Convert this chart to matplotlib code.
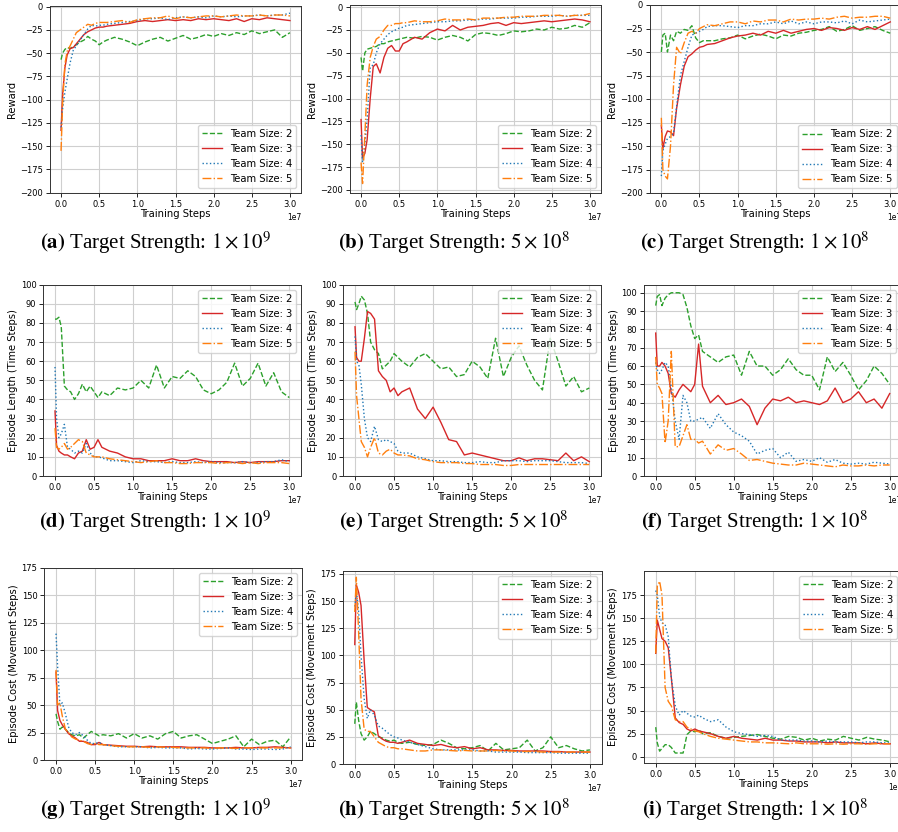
import numpy as np
import matplotlib
matplotlib.use("Agg")
from matplotlib import pyplot as plt

plt.rcParams['mathtext.fontset'] = 'stix'

# training steps in units of 1e7, shared by every curve
steps = [0, 0.02, 0.05, 0.08, 0.12, 0.16, 0.2, 0.25, 0.3, 0.35, 0.4, 0.45, 0.5, 0.55,
         0.6, 0.7, 0.8, 0.9, 1.0, 1.1, 1.2, 1.3, 1.4, 1.5, 1.6, 1.7, 1.8, 1.9,
         2.0, 2.1, 2.2, 2.3, 2.4, 2.5, 2.6, 2.7, 2.8, 2.9, 3.0]

team_labels = ["Team Size: 2", "Team Size: 3", "Team Size: 4", "Team Size: 5"]
team_colors = ["#2ca02c", "#d62728", "#1f77b4", "#ff7f0e"]
team_styles = ["--", "-", ":", "-."]

# ---- Reward ----
a2 = [-57, -50, -46, -44, -45, -43, -41, -38, -36, -32, -35, -37, -41, -38,
      -36, -33, -35, -38, -42, -38, -35, -33, -37, -34, -31, -35, -33, -30, -32, -29, -31, -28, -30, -26, -29, -27, -25, -33, -28]
a3 = [-133, -95, -66, -52, -45, -44, -40, -35, -30, -27, -25, -23, -22, -22,
      -21, -20, -19, -18, -16, -15, -16, -15, -14, -15, -14, -15, -13, -14, -13, -14, -15, -13, -16, -13, -14, -12, -13, -14, -15]
a4 = [-130, -110, -92, -78, -60, -47, -42, -36, -30, -24, -20, -21, -20, -20,
      -19, -18, -17, -16, -15, -13, -13, -12, -14, -12, -11, -12, -11, -12, -10, -11, -10, -11, -10, -10, -9, -10, -9, -9, -7]
a5 = [-155, -105, -62, -48, -42, -35, -28, -25, -22, -19, -20, -18, -17, -17,
      -17, -16, -15, -17, -14, -13, -12, -12, -10, -13, -11, -12, -11, -10, -10, -11, -10, -9, -10, -10, -9, -10, -9, -9, -10]

b2 = [-55, -70, -50, -46, -45, -44, -43, -40, -40, -38, -37, -36, -35, -34,
      -33, -34, -32, -33, -36, -33, -31, -33, -37, -30, -28, -29, -31, -29, -26, -27, -26, -24, -25, -22, -24, -23, -20, -22, -17]
b3 = [-123, -165, -160, -145, -100, -65, -62, -72, -55, -45, -42, -48, -48, -40,
      -38, -33, -35, -28, -24, -26, -20, -25, -22, -21, -20, -18, -17, -20, -17, -18, -17, -16, -15, -16, -15, -14, -13, -14, -16]
b4 = [-140, -170, -150, -122, -66, -63, -50, -40, -35, -30, -27, -25, -23, -22,
      -20, -19, -18, -17, -16, -16, -15, -15, -14, -14, -13, -13, -12, -12, -12, -11, -11, -10, -10, -10, -9, -10, -9, -9, -9]
b5 = [-170, -193, -140, -85, -55, -43, -35, -32, -25, -20, -20, -18, -18, -17,
      -17, -15, -16, -16, -15, -13, -14, -14, -13, -14, -12, -12, -12, -11, -11, -10, -10, -10, -9, -9, -9, -10, -9, -9, -7]

c2 = [-50, -32, -30, -50, -32, -38, -28, -30, -26, -27, -22, -35, -40, -38,
      -38, -38, -36, -35, -32, -36, -33, -31, -33, -36, -32, -33, -30, -29, -27, -26, -23, -28, -26, -22, -27, -25, -23, -27, -30]
c3 = [-128, -153, -140, -134, -135, -139, -110, -85, -65, -55, -52, -48, -45, -44,
      -42, -41, -38, -35, -33, -32, -30, -32, -28, -30, -27, -30, -28, -26, -25, -27, -24, -25, -27, -24, -26, -23, -26, -22, -18]
c4 = [-182, -155, -148, -142, -140, -136, -108, -75, -60, -45, -32, -30, -28, -26,
      -23, -22, -22, -23, -24, -22, -22, -20, -20, -18, -20, -17, -20, -18, -20, -18, -18, -19, -17, -20, -16, -18, -17, -16, -15]
c5 = [-120, -175, -182, -185, -150, -85, -45, -52, -40, -30, -28, -30, -25, -23,
      -21, -22, -20, -18, -18, -20, -17, -18, -16, -16, -18, -15, -16, -15, -15, -14, -15, -13, -12, -14, -13, -13, -12, -12, -14]

# ---- Episode length ----
d2 = [82, 82, 83, 78, 47, 45, 44, 40, 43, 48, 44, 47, 44, 41,
      44, 42, 46, 45, 46, 50, 46, 58, 46, 52, 51, 55, 52, 45, 43, 45, 49, 59, 47, 51, 59, 47, 54, 44, 41]
d3 = [34, 16, 13, 12, 11, 11, 10, 9, 12, 13, 19, 14, 15, 19,
      15, 13, 12, 10, 9, 9, 8, 8, 8, 9, 8, 8, 9, 8, 7.5, 7.5, 7.5, 7, 7.5, 7, 7.5, 7.5, 7.5, 8, 8]
d4 = [57, 30, 20, 22, 27, 15, 14, 12, 13, 12, 17, 12, 10, 10,
      9.5, 8, 8, 7.5, 7, 8, 7.5, 7.5, 7, 7.5, 7, 7, 7.5, 7, 7.5, 7, 7, 7, 7.5, 7, 7, 7.5, 7.5, 8.5, 7.5]
d5 = [25, 15, 14, 15, 17, 14, 15, 17, 19, 18, 12, 11, 10, 10,
      10, 9, 8.5, 8, 7.5, 7, 7.5, 8, 7, 7, 6.5, 6.5, 7, 7, 7, 6.5, 7, 7, 6.5, 7, 6.5, 7, 7, 7, 6.5]

e2 = [91, 87, 90, 94, 92, 85, 70, 66, 64, 56, 58, 60, 64, 62,
      60, 57, 62, 64, 60, 56, 57, 52, 53, 60, 57, 51, 72, 52, 62, 68, 58, 50, 45, 72, 60, 47, 52, 44, 46]
e3 = [78, 62, 60, 60, 72, 86, 85, 82, 55, 52, 50, 44, 46, 42,
      44, 46, 35, 30, 36, 28, 19, 18, 11, 12, 11, 10, 9, 8, 8, 9.5, 8, 9, 9, 8.5, 8, 12, 8, 10, 7.5]
e4 = [73, 60, 58, 48, 30, 20, 18, 26, 19, 18, 19, 18, 17, 13,
      12, 12, 10, 9, 8, 8, 7.5, 7.5, 7, 7, 7.5, 7, 7, 8, 8, 8, 7.5, 8, 8, 8, 7.5, 7, 7, 7, 6.5]
e5 = [65, 42, 30, 18, 15, 10, 15, 20, 12, 11, 13, 14, 12, 11,
      11, 10.5, 9, 8.5, 7.5, 7, 7, 7, 6.5, 6.5, 6, 6, 6, 5.5, 5.5, 6, 6, 6, 6, 6, 6, 6, 6, 6, 6]

f2 = [93, 98, 99, 93, 97, 99, 100, 100, 100, 99, 92, 82, 75, 77,
      68, 65, 62, 65, 66, 55, 68, 60, 60, 55, 58, 64, 58, 55, 55, 47, 65, 57, 62, 55, 47, 52, 60, 56, 50]
f3 = [78, 60, 60, 62, 60, 56, 45, 43, 47, 50, 48, 46, 50, 72,
      49, 40, 44, 39, 40, 42, 38, 28, 37, 42, 41, 43, 40, 41, 40, 39, 41, 48, 40, 42, 46, 40, 42, 37, 45]
f4 = [62, 58, 56, 58, 62, 60, 48, 30, 20, 44, 40, 30, 30, 31,
      32, 26, 34, 28, 24, 22, 19, 12, 14, 15, 10, 13, 8, 9, 8, 10, 7.5, 9, 7, 6.5, 7, 6.5, 7.5, 7, 6.5]
f5 = [65, 50, 48, 45, 18, 30, 68, 16, 16, 22, 28, 20, 20, 18,
      19, 12, 17, 14, 15, 12, 8.5, 9, 8, 7, 6.5, 6, 6, 7, 6.5, 6, 5.5, 5, 6, 5.5, 5.5, 6, 5.5, 6, 6]

# ---- Episode cost ----
g2 = [42, 35, 28, 30, 28, 25, 23, 22, 23, 20, 23, 26, 24, 22,
      23, 22, 24, 20, 24, 20, 22, 19, 24, 26, 20, 22, 23, 19, 15, 17, 19, 22, 12, 19, 14, 17, 18, 12, 21]
g3 = [80, 45, 36, 32, 28, 24, 22, 20, 17, 17, 16, 14, 14, 16,
      14, 13.5, 13, 12.5, 12.5, 12, 12.5, 12, 12, 12, 12, 11.5, 11.5, 11.5, 11, 11, 11, 11.5, 11, 11, 11.5, 11.5, 12, 11.5, 11]
g4 = [115, 85, 50, 52, 42, 30, 25, 23, 25, 22, 18, 15, 15, 16,
      14, 13, 12, 12, 12, 12, 11, 11.5, 11, 11, 11, 10, 10.5, 10, 10, 10.5, 11, 10, 10, 9.5, 10, 10, 9.5, 10, 12]
g5 = [82, 50, 52, 40, 28, 25, 21, 19, 18, 17, 15, 14, 15, 14,
      14, 13, 12.5, 12, 12, 12, 11.5, 12, 11.5, 11.5, 11, 11, 11, 11, 10.5, 11, 11, 10.5, 11, 11, 11, 11, 11, 11, 11]

h2 = [37, 57, 40, 28, 22, 25, 30, 28, 25, 24, 22, 21, 22, 20,
      19, 20, 18, 17, 18, 22, 19, 15, 14, 15, 17, 12, 19, 13, 14, 15, 22, 12, 15, 25, 15, 17, 14, 12, 13]
h3 = [110, 165, 158, 146, 95, 52, 50, 48, 26, 23, 21, 20, 20, 19,
      20, 22, 19, 18, 17, 18, 16, 15, 16, 14, 15, 13, 13, 12.5, 12.5, 12, 12, 12, 12, 11.5, 11.5, 11, 11, 11, 11]
h4 = [145, 160, 140, 100, 60, 42, 50, 45, 35, 33, 30, 27, 25, 24,
      22, 20, 18, 16, 14, 13, 13, 13, 13, 13, 12, 12, 11, 11, 11, 11, 10.5, 10.5, 10.5, 10.5, 10, 10, 10, 10, 10]
h5 = [140, 172, 120, 60, 32, 30, 30, 25, 20, 18, 16, 15, 15, 14,
      14, 13, 12, 12, 13, 13, 12.5, 12, 12.5, 12, 12, 12, 12.5, 12, 12, 11.5, 11.5, 11.5, 11, 11, 11, 11, 11, 11, 11]

i2 = [32, 15, 6, 9, 13, 13, 10, 4, 4, 4, 24, 28, 27, 29,
      25, 26, 22, 20, 21, 22, 23, 24, 22, 20, 19, 22, 21, 18, 20, 17, 19, 18, 22, 20, 18, 21, 19, 18, 16]
i3 = [112, 148, 138, 128, 125, 118, 85, 42, 37, 35, 30, 28, 30, 28,
      27, 25, 22, 20, 22, 20, 19, 18, 20, 18, 18, 17, 17, 16, 16, 16, 15, 16, 15, 15, 15, 14, 15, 14, 14]
i4 = [180, 175, 152, 145, 143, 130, 85, 55, 45, 50, 47, 44, 43, 45,
      42, 38, 40, 32, 27, 25, 24, 22, 23, 22, 18, 18, 18, 17, 17, 16, 17, 16, 16, 16, 15, 16, 16, 15, 15]
i5 = [112, 185, 190, 175, 75, 60, 55, 40, 38, 38, 32, 30, 28, 27,
      25, 22, 20, 19, 18, 17, 16, 16, 15, 15, 14.5, 14, 15, 14, 14, 14, 13.5, 14, 13.5, 14, 14, 13.5, 14, 14, 14]

strengths = [r"1\times10^{9}", r"5\times10^{8}", r"1\times10^{8}"]
letters = "abcdefghi"

W, H = 898, 832
def px_rect(left, top, right, bottom):
    return [left / W, 1 - bottom / H, (right - left) / W, (bottom - top) / H]

# axes boxes in pixels (left, top, right, bottom)
boxes = [
    (49.6, 5.7, 301.4, 192.7), (349.6, 5.3, 601.4, 192.7), (649.9, 5.0, 901.7, 193.0),
    (43.3, 284.7, 301.0, 476.0), (343.3, 284.7, 601.0, 476.0), (644.0, 284.7, 901.4, 476.0),
    (44.3, 567.7, 302.4, 760.0), (343.0, 570.7, 601.7, 764.0), (644.0, 570.7, 902.0, 762.7),
]
series = [(a2, a3, a4, a5), (b2, b3, b4, b5), (c2, c3, c4, c5),
          (d2, d3, d4, d5), (e2, e3, e4, e5), (f2, f3, f4, f5),
          (g2, g3, g4, g5), (h2, h3, h4, h5), (i2, i3, i4, i5)]
ylims = [(-200, 1), (-203, 2), (-200, 0),
         (0, 100), (0, 100), (0, 104.4),
         (0, 175), (0, 178), (-6.5, 201.5)]
ylabels = ["Reward", "Episode Length (Time Steps)", "Episode Cost (Movement Steps)"]
yticks = [np.arange(-200, 1, 25), np.arange(0, 101, 10), np.arange(0, 176, 25)]
cap_x = [155, 454, 755]
cap_y = [243, 522, 810]

fig = plt.figure(figsize=(W / 100, H / 100), dpi=100)
x = np.array(steps) * 1e7

for k in range(9):
    row, col = divmod(k, 3)
    ax = fig.add_axes(px_rect(*boxes[k]))
    for vals, lab, colr, ls in zip(series[k], team_labels, team_colors, team_styles):
        ax.plot(x, vals, color=colr, linestyle=ls, linewidth=1.0, label=lab)
    ax.set_xlim(-0.15e7, 3.15e7)
    ax.set_ylim(*ylims[k])
    ax.set_yticks(yticks[row])
    ax.grid(True, color="#cfcfcf", linewidth=0.8)
    ax.tick_params(labelsize=6, width=0.6, length=3, pad=2)
    ax.xaxis.get_offset_text().set_fontsize(5.5)
    for s in ax.spines.values():
        s.set_linewidth(0.7)
        s.set_color("#333333")
    ax.set_xlabel("Training Steps", fontsize=7.2, labelpad=0)
    ax.set_ylabel(ylabels[row], fontsize=7.2, labelpad=2)
    ax.legend(loc="lower right" if row == 0 else "upper right", fontsize=7.2)

    fig.text(cap_x[col] / W, 1 - cap_y[row] / H,
             r"$\mathbf{(" + letters[k] + r")}$ Target Strength: $" + strengths[col] + "$",
             fontsize=15, family="Liberation Serif", ha="center", va="center")

plt.savefig("out.png", dpi=100)
